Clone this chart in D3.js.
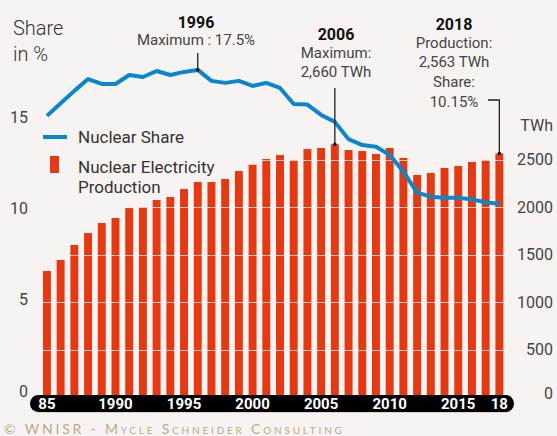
<!DOCTYPE html>
<html>
<head>
<meta charset="utf-8">
<script src="https://cdn.jsdelivr.net/npm/d3@7"></script>
<style>
  body { margin: 0; background: #f7f3f2; }
  svg { display: block; font-family: Roboto, "Open Sans", sans-serif; }
</style>
</head>
<body>
<div id="chart"></div>
<script>
// world nuclear share (%) and production (TWh), 1985-2018
const years = d3.range(1985, 2019);
const production = [1326, 1442, 1600, 1726, 1832, 1884, 1989, 2000, 2074, 2105,
  2189, 2263, 2263, 2295, 2379, 2445, 2505, 2547, 2495, 2610,
  2621, 2660, 2600, 2589, 2558, 2621, 2516, 2337, 2358, 2411,
  2432, 2474, 2495, 2563];
const share = [14.98, 15.67, 16.35, 17.0, 16.73, 16.73, 17.22, 17.11, 17.44, 17.22,
  17.39, 17.5, 16.9, 16.79, 16.9, 16.62, 16.79, 16.51, 15.63, 15.6,
  15.03, 14.65, 13.7, 13.38, 13.29, 12.84, 11.92, 10.77, 10.55, 10.49,
  10.49, 10.4, 10.24, 10.15];
const shareTicks = [0, 5, 10, 15];
const twhTicks = [0, 500, 1000, 1500, 2000, 2500];
const gridTicks = [500, 1000, 1500, 2000, 2500];
const xTickYears = [1985, 1990, 1995, 2000, 2005, 2010, 2015, 2018];
const xTickLabels = ["85", "1990", "1995", "2000", "2005", "2010", "2015", "18"];

const W = 557, H = 436;
const svg = d3.select("#chart").append("svg")
  .attr("width", W)
  .attr("height", H);

svg.append("rect").attr("width", W).attr("height", H).attr("fill", "#f7f3f2");

const x = d3.scaleBand()
  .domain(years)
  .range([37.2, 509.1])
  .padding(0.42);
const cx = d => x(d) + x.bandwidth() / 2;

const yL = d3.scaleLinear().domain([0, 15]).range([389, 115.5]);
const yR = d3.scaleLinear().domain([0, 2500]).range([397, 159.5]);

const RED = "#e43a13";
const BLUE = "#0a87cc";
const INK = "#333";

// bars
svg.append("g")
  .selectAll("rect")
  .data(years)
  .join("rect")
  .attr("x", d => x(d))
  .attr("y", (d, i) => yR(production[i]))
  .attr("width", x.bandwidth())
  .attr("height", (d, i) => yR(0) - yR(production[i]))
  .attr("fill", RED);

// gridlines on top of the bars
svg.append("g")
  .selectAll("line")
  .data(gridTicks)
  .join("line")
  .attr("x1", 40).attr("x2", 506)
  .attr("y1", d => Math.round(yR(d)) + 0.5)
  .attr("y2", d => Math.round(yR(d)) + 0.5)
  .attr("stroke", "#f7f3f2")
  .attr("stroke-opacity", 0.75)
  .attr("stroke-width", 1.2);

// share line
const line = d3.line()
  .x((d, i) => cx(years[i]))
  .y(d => yL(d));

svg.append("path")
  .datum(share)
  .attr("d", line)
  .attr("fill", "none")
  .attr("stroke", BLUE)
  .attr("stroke-width", 4)
  .attr("stroke-linejoin", "round");

// left axis labels
svg.append("g")
  .selectAll("text")
  .data(shareTicks)
  .join("text")
  .attr("x", 28)
  .attr("y", d => yL(d) + 2)
  .attr("dy", "0.35em")
  .attr("text-anchor", "end")
  .attr("fill", "#444")
  .style("font-size", "16px")
  .text(d => d);

// right axis labels
svg.append("g")
  .selectAll("text")
  .data(twhTicks)
  .join("text")
  .attr("x", 553)
  .attr("y", d => d === 0 ? yR(d) - 4 : yR(d))
  .attr("dy", "0.35em")
  .attr("text-anchor", "end")
  .attr("fill", "#444")
  .style("font-size", "16px")
  .text(d => d);

svg.append("text")
  .attr("x", 553).attr("y", 125).attr("dy", "0.35em")
  .attr("text-anchor", "end")
  .attr("fill", "#444")
  .style("font-size", "16px")
  .text("TWh");

// axis title
const title = svg.append("text")
  .attr("fill", INK)
  .style("font-size", "20px")
  .style("font-weight", "300");
title.append("tspan").attr("x", 13).attr("y", 35).text("Share");
title.append("tspan").attr("x", 13).attr("y", 61).text("in %");

// x axis band
svg.append("rect")
  .attr("x", 30).attr("y", 396)
  .attr("width", 484).attr("height", 17)
  .attr("rx", 8.5)
  .attr("fill", "#d9d4d2");
svg.append("rect")
  .attr("x", 30).attr("y", 395)
  .attr("width", 484).attr("height", 17)
  .attr("rx", 8.5)
  .attr("fill", "#000");

svg.append("g")
  .selectAll("text")
  .data(xTickYears)
  .join("text")
  .attr("x", d => cx(d))
  .attr("y", 409)
  .attr("text-anchor", "middle")
  .attr("fill", "#fff")
  .style("font-size", "15px")
  .style("font-weight", "700")
  .text((d, i) => xTickLabels[i]);

// legend
svg.append("line")
  .attr("x1", 43).attr("x2", 67)
  .attr("y1", 137).attr("y2", 137)
  .attr("stroke", BLUE)
  .attr("stroke-width", 4);
svg.append("text")
  .attr("x", 78).attr("y", 143)
  .attr("fill", INK)
  .style("font-size", "17px")
  .text("Nuclear Share");
svg.append("rect")
  .attr("x", 50).attr("y", 156)
  .attr("width", 9).attr("height", 17)
  .attr("fill", RED);
const leg2 = svg.append("text")
  .attr("fill", INK)
  .style("font-size", "17px");
leg2.append("tspan").attr("x", 78).attr("y", 173).text("Nuclear Electricity");
leg2.append("tspan").attr("x", 78).attr("y", 193).text("Production");

// annotations
function note(xc, lines) {
  const t = svg.append("text")
    .attr("text-anchor", "middle")
    .attr("fill", INK);
  lines.forEach(l => {
    t.append("tspan")
      .attr("x", xc)
      .attr("y", l.y)
      .style("font-size", l.bold ? "16px" : "15px")
      .style("font-weight", l.bold ? "700" : "400")
      .attr("fill", l.bold ? "#111" : "#444")
      .text(l.text);
  });
}

note(196, [
  { text: "1996", y: 28, bold: true },
  { text: "Maximum : 17.5%", y: 45 }
]);
note(336, [
  { text: "2006", y: 40, bold: true },
  { text: "Maximum:", y: 58 },
  { text: "2,660 TWh", y: 77 }
]);
note(454, [
  { text: "2018", y: 30, bold: true },
  { text: "Production:", y: 48 },
  { text: "2,563 TWh", y: 67 },
  { text: "Share:", y: 87 },
  { text: "10.15%", y: 107 }
]);

const ann = svg.append("g")
  .attr("stroke", "#222")
  .attr("stroke-width", 1.3)
  .attr("fill", "none");

const x96 = cx(1996), x06 = cx(2006), x18 = cx(2018);
ann.append("line")
  .attr("x1", x96).attr("x2", x96)
  .attr("y1", 53).attr("y2", yL(17.5));
ann.append("line")
  .attr("x1", x06).attr("x2", x06)
  .attr("y1", 88).attr("y2", yR(2660));
ann.append("path")
  .attr("d", `M488,100H${x18}V${yR(2563)}`);

[[x96, yL(17.5)], [x06, yR(2660)], [x18, yR(2563)]].forEach(p => {
  svg.append("circle")
    .attr("cx", p[0]).attr("cy", p[1])
    .attr("r", 1.8)
    .attr("fill", "#111");
});

// source
svg.append("text")
  .attr("x", 4).attr("y", 434)
  .attr("fill", "#bcaa86")
  .style("font-family", "Lato, sans-serif")
  .style("font-size", "14px")
  .style("font-variant", "small-caps")
  .style("letter-spacing", "2.8px")
  .text("© WNISR - Mycle Schneider Consulting");
</script>
</body>
</html>
